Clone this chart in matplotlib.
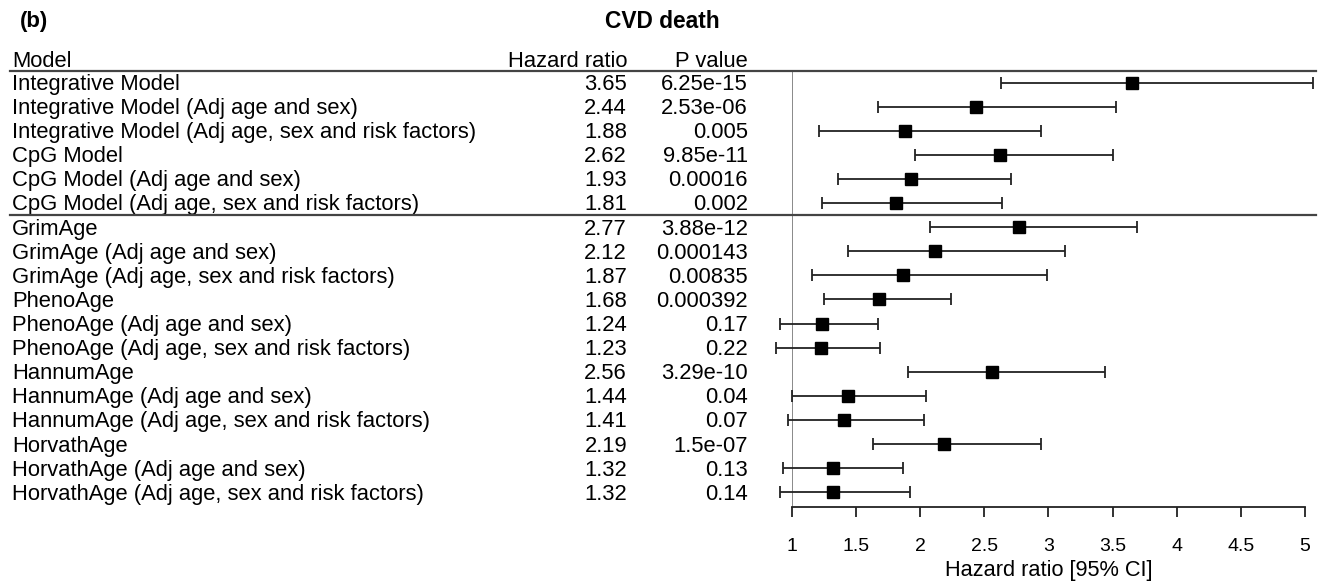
import matplotlib.pyplot as plt
import numpy as np
from matplotlib.lines import Line2D
from matplotlib.transforms import blended_transform_factory

plt.rcParams["font.family"] = ["Liberation Sans", "DejaVu Sans"]

models = [
    "Integrative Model",
    "Integrative Model (Adj age and sex)",
    "Integrative Model (Adj age, sex and risk factors)",
    "CpG Model",
    "CpG Model (Adj age and sex)",
    "CpG Model (Adj age, sex and risk factors)",
    "GrimAge",
    "GrimAge (Adj age and sex)",
    "GrimAge (Adj age, sex and risk factors)",
    "PhenoAge",
    "PhenoAge (Adj age and sex)",
    "PhenoAge (Adj age, sex and risk factors)",
    "HannumAge",
    "HannumAge (Adj age and sex)",
    "HannumAge (Adj age, sex and risk factors)",
    "HorvathAge",
    "HorvathAge (Adj age and sex)",
    "HorvathAge (Adj age, sex and risk factors)",
]
hr = [3.65, 2.44, 1.88, 2.62, 1.93, 1.81, 2.77, 2.12, 1.87,
      1.68, 1.24, 1.23, 2.56, 1.44, 1.41, 2.19, 1.32, 1.32]
ci_lo = [2.63, 1.67, 1.21, 1.96, 1.36, 1.24, 2.08, 1.44, 1.16,
         1.25, 0.91, 0.88, 1.91, 1.00, 0.97, 1.63, 0.93, 0.91]
ci_hi = [5.06, 3.53, 2.94, 3.50, 2.71, 2.64, 3.69, 3.13, 2.99,
         2.24, 1.67, 1.69, 3.44, 2.05, 2.03, 2.94, 1.87, 1.92]
p_values = ["6.25e-15", "2.53e-06", "0.005", "9.85e-11", "0.00016", "0.002",
            "3.88e-12", "0.000143", "0.00835", "0.000392", "0.17", "0.22",
            "3.29e-10", "0.04", "0.07", "1.5e-07", "0.13", "0.14"]
x_ticks = [1, 1.5, 2, 2.5, 3, 3.5, 4, 4.5, 5]

W, H = 1325, 583
fig = plt.figure(figsize=(W / 100, H / 100), dpi=100)
ax = fig.add_axes([791.7 / W, (H - 506.7) / H, (1305 - 791.7) / W, (506.7 - 70.7) / H])

rows = np.arange(len(models))
hr_a = np.array(hr)
xerr = [hr_a - np.array(ci_lo), np.array(ci_hi) - hr_a]
ax.errorbar(hr_a, rows, xerr=xerr, fmt="s", color="black", ecolor="#222222",
            elinewidth=1.3, capsize=4.3, capthick=1.3, markersize=9.2,
            clip_on=False, zorder=3)
ax.axvline(1, color="#808080", lw=1.3, zorder=1)

ax.set_xlim(1, 5)
ax.set_ylim(17.6, -0.49)
ax.set_yticks([])
for s in ["top", "right", "left"]:
    ax.spines[s].set_visible(False)
ax.spines["bottom"].set_linewidth(1.3)
ax.spines["bottom"].set_color("#222222")
ax.set_xticks(x_ticks)
ax.set_xticklabels([f"{t:g}" for t in x_ticks])
ax.tick_params(axis="x", direction="out", length=7.4, width=1.3, pad=15,
               labelsize=14, color="#222222")
ax.set_xlabel("Hazard ratio [95% CI]", fontsize=15.7, labelpad=4)
ax.patch.set_alpha(0)

fs = 15.8
base = 0.31  # baseline sits a bit below the row centre
tr = blended_transform_factory(fig.transFigure, ax.transData)
for i, name in enumerate(models):
    y = i + base
    ax.text(12 / W, y, name, transform=tr, ha="left", va="baseline", fontsize=fs)
    ax.text(627 / W, y, f"{hr[i]:.2f}", transform=tr, ha="right", va="baseline", fontsize=fs)
    ax.text(748 / W, y, p_values[i], transform=tr, ha="right", va="baseline", fontsize=fs)

hy = -0.656
ax.text(12 / W, hy, "Model", transform=tr, ha="left", va="baseline", fontsize=fs)
ax.text(627 / W, hy, "Hazard ratio", transform=tr, ha="right", va="baseline", fontsize=fs)
ax.text(748 / W, hy, "P value", transform=tr, ha="right", va="baseline", fontsize=fs)

for yy in [-0.49, 5.5]:
    fig.add_artist(Line2D([10 / W, 1316 / W], [yy, yy], transform=tr,
                          color="#444444", lw=1.6))

fig.text(20 / W, 1 - 21 / H, "(b)", ha="left", va="center", fontsize=16, fontweight="bold")
fig.text(662 / W, 1 - 21 / H, "CVD death", ha="center", va="center", fontsize=16.4, fontweight="bold")

fig.savefig("out.png", dpi=100)
